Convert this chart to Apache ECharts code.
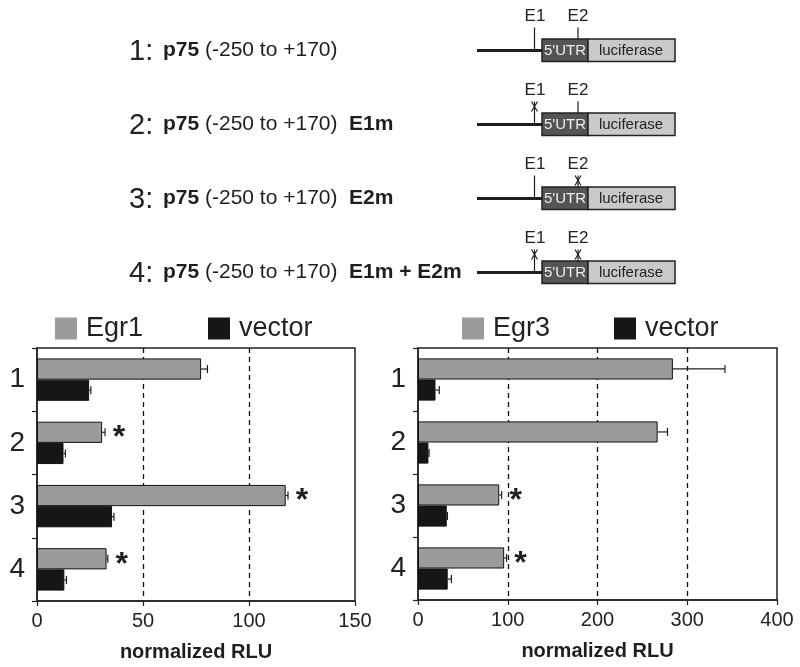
<!DOCTYPE html>
<html><head><meta charset="utf-8">
<script src="https://cdn.jsdelivr.net/npm/echarts@6/dist/echarts.min.js"></script>
<style>html,body{margin:0;padding:0;background:#fff}#c{width:800px;height:667px}</style>
</head><body><div id="c"></div>
<script>
// ---- data ----
const categories = ['1', '2', '3', '4'];
const egr1 = [77.4, 30.7, 117.3, 32.8];
const egr1Err = [3.0, 1.4, 1.1, 0.6];
const vector1 = [24.6, 12.5, 35.4, 12.9];
const vector1Err = [0.8, 0.9, 0.9, 1.0];
const egr1Sig = [0, 1, 1, 1];
const egr3 = [284, 267, 90.5, 96];
const egr3Err = [58, 11, 2.7, 2.7];
const vector3 = [19.5, 11.6, 32, 33.1];
const vector3Err = [4.2, 0.7, 0.8, 4.1];
const egr3Sig = [0, 0, 1, 1];
const xTicksLeft = [0, 50, 100, 150];
const xTicksRight = [0, 100, 200, 300, 400];
const rowNums = ['1:', '2:', '3:', '4:'];
const rowSuffix = ['', 'E1m', 'E2m', 'E1m + E2m'];
const mutE1 = [false, true, false, true];
const mutE2 = [false, false, true, true];

const FONT = 'Liberation Sans, Arial, sans-serif';
const GRAY = '#9b9b9b', BLACK = '#161616', INK = '#1e1e1e';
const CAT_GAP = 0.33;

// ---- schematic diagram (graphic) ----
const rowY = [50.5, 124.5, 198.5, 272.5];
const graphics = [];
function txt(x, y, text, font, fill, align) {
  graphics.push({type: 'text', x: x, y: y, silent: true,
    style: {text: text, font: font, fill: fill || INK, align: align || 'left', verticalAlign: 'middle',
            textAlign: align || 'left', textVerticalAlign: 'middle'}});
}
function ln(x1, y1, x2, y2, w) {
  graphics.push({type: 'line', silent: true, shape: {x1: x1, y1: y1, x2: x2, y2: y2},
    style: {stroke: INK, lineWidth: w || 1.2}});
}
function xmark(x, y) { ln(x - 3, y - 5, x + 3, y + 5, 1.2); ln(x + 3, y - 5, x - 3, y + 5, 1.2); }
rowY.forEach(function (y, i) {
  txt(129, y + 1, rowNums[i], '29px ' + FONT, '#222');
  txt(163, y, 'p75', 'bold 21px ' + FONT);
  txt(205, y, '(-250 to +170)', '21px ' + FONT);
  if (rowSuffix[i]) txt(349, y, rowSuffix[i], 'bold 21px ' + FONT);
  ln(477, y, 543, y, 3);
  graphics.push({type: 'rect', silent: true, shape: {x: 542, y: y - 11.5, width: 46, height: 22.5},
    style: {fill: '#555555', stroke: '#222', lineWidth: 1.5}});
  graphics.push({type: 'rect', silent: true, shape: {x: 588, y: y - 11.5, width: 87, height: 22.5},
    style: {fill: '#c9c9c9', stroke: '#222', lineWidth: 1.5}});
  txt(565, y + 0.5, "5'UTR", '15px ' + FONT, '#eeeeee', 'center');
  txt(631, y + 0.5, 'luciferase', '15px ' + FONT, '#222', 'center');
  ln(534.5, y - 23, 534.5, y - 1.5, 1.2);
  ln(578, y - 23, 578, y - 11.5, 1.2);
  txt(535, y - 34, 'E1', '17px ' + FONT, '#222', 'center');
  txt(578, y - 34, 'E2', '17px ' + FONT, '#222', 'center');
  if (mutE1[i]) xmark(534.5, y - 18);
  if (mutE2[i]) xmark(578, y - 18);
});

// ---- error bars + significance ----
function errSeries(name, gridIdx, vals, errs, sig, pos) {
  return {
    type: 'custom', name: name + '_err', xAxisIndex: gridIdx, yAxisIndex: gridIdx, z: 5,
    silent: true, legendHoverLink: false,
    data: vals.map(function (v, i) { return [v, i, errs[i], sig ? sig[i] : 0]; }),
    renderItem: function (params, api) {
      const v = api.value(0), c = api.value(1), e = api.value(2), s = api.value(3);
      const p0 = api.coord([v, c]);
      const p1 = api.coord([v + e, c]);
      const band = api.size([0, 1])[1];
      const bw = band * (1 - CAT_GAP) / 2;
      const y = p0[1] + pos * bw / 2;
      const ch = [
        {type: 'line', shape: {x1: p0[0], y1: y, x2: p1[0], y2: y}, style: {stroke: INK, lineWidth: 1.2}},
        {type: 'line', shape: {x1: p1[0], y1: y - 4, x2: p1[0], y2: y + 4}, style: {stroke: INK, lineWidth: 1.2}}
      ];
      if (s) ch.push({type: 'text', x: p1[0] + 14, y: y + 6,
        style: {text: '*', font: 'bold 32px ' + FONT, fill: INK, align: 'center', verticalAlign: 'middle',
                textAlign: 'center', textVerticalAlign: 'middle'}});
      return {type: 'group', children: ch};
    }
  };
}

function barSeries(name, gridIdx, vals, color) {
  return {type: 'bar', name: name, xAxisIndex: gridIdx, yAxisIndex: gridIdx, data: vals,
    barGap: '0%', barCategoryGap: (CAT_GAP * 100) + '%',
    itemStyle: {color: color, borderColor: '#111', borderWidth: 1}, emphasis: {disabled: true}};
}

function xAxis(gridIdx, ticks) {
  return {type: 'value', gridIndex: gridIdx, min: ticks[0], max: ticks[ticks.length - 1],
    interval: ticks[1] - ticks[0],
    name: 'normalized RLU', nameLocation: 'middle', nameGap: 41,
    nameTextStyle: {fontFamily: FONT, fontWeight: 'bold', fontSize: 20, color: INK},
    axisLine: {show: true, lineStyle: {color: '#222', width: 1.5}},
    axisTick: {show: true, length: 5, lineStyle: {color: '#222', width: 1.2}},
    splitLine: {show: true, showMinLine: false, showMaxLine: false,
                lineStyle: {color: '#111', width: 1.3, type: [5, 4]}},
    axisLabel: {fontFamily: FONT, fontSize: 20, color: '#222', margin: 10}};
}
function yAxis(gridIdx) {
  return {type: 'category', gridIndex: gridIdx, data: categories, inverse: true,
    axisLine: {show: true, lineStyle: {color: '#222', width: 1.5}},
    axisTick: {show: true, length: 5, lineStyle: {color: '#222', width: 1.2}},
    splitLine: {show: false},
    axisLabel: {fontFamily: FONT, fontSize: 28, color: '#222', margin: 12}};
}
function legend(name, left, top) {
  return {data: [name], left: left, top: top, padding: 0, itemWidth: 22, itemHeight: 22, icon: 'rect',
    selectedMode: false, itemStyle: {borderWidth: 0},
    textStyle: {fontFamily: FONT, fontSize: 27, color: '#222', padding: [0, 0, 0, 4]}};
}

const chart = echarts.init(document.getElementById('c'), null, {renderer: 'canvas'});
chart.setOption({
  animation: false,
  backgroundColor: '#fff',
  grid: [
    {left: 37, top: 348, width: 318, height: 253, show: true, borderColor: '#222', borderWidth: 1.5},
    {left: 418, top: 348, width: 359, height: 252, show: true, borderColor: '#222', borderWidth: 1.5}
  ],
  legend: [
    legend('Egr1', 55, 315), legend('vector', 208, 315),
    legend('Egr3', 462, 315), legend('vector', 614, 315)
  ],
  xAxis: [xAxis(0, xTicksLeft), xAxis(1, xTicksRight)],
  yAxis: [yAxis(0), yAxis(1)],
  series: [
    barSeries('Egr1', 0, egr1, GRAY),
    barSeries('vector', 0, vector1, BLACK),
    barSeries('Egr3', 1, egr3, GRAY),
    barSeries('vector', 1, vector3, BLACK),
    errSeries('Egr1', 0, egr1, egr1Err, egr1Sig, -1),
    errSeries('vector', 0, vector1, vector1Err, null, 1),
    errSeries('Egr3', 1, egr3, egr3Err, egr3Sig, -1),
    errSeries('vector', 1, vector3, vector3Err, null, 1)
  ],
  graphic: graphics
});
</script>
</body></html>
